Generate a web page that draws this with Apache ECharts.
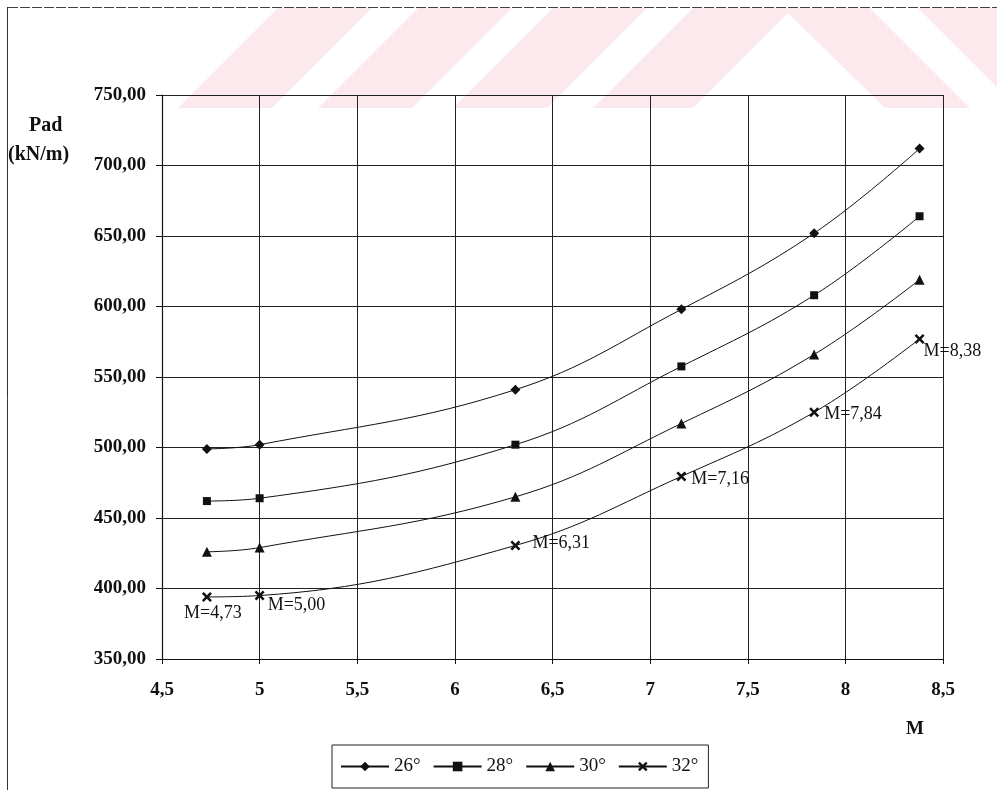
<!DOCTYPE html>
<html>
<head>
<meta charset="utf-8">
<script src="https://cdn.jsdelivr.net/npm/echarts@6/dist/echarts.min.js"></script>
<style>
html,body{margin:0;padding:0;background:#fff;}
#c{width:997px;height:790px;}
</style>
</head>
<body>
<div id="c"></div>
<script>
// ---- data ----
const xValues = [4.73, 5.00, 6.31, 7.16, 7.84, 8.38];
const s26 = [499, 502, 541, 598, 652, 712];
const s28 = [462, 464, 502, 557.5, 608, 664];
const s30 = [426, 429, 465, 517, 566, 619];
const s32 = [394, 395, 430.5, 479.5, 525, 577];
const seriesNames = ['26°', '28°', '30°', '32°'];
const pointLabels32 = ['M=4,73', 'M=5,00', 'M=6,31', 'M=7,16', 'M=7,84', 'M=8,38'];
const xAxisMin = 4.5, xAxisMax = 8.5, xAxisStep = 0.5;
const yAxisMin = 350, yAxisMax = 750, yAxisStep = 50;
const yAxisTitle = ['Pad', '(kN/m)'];
const xAxisTitle = 'M';

// ---- styles ----
const FONT = '"Liberation Serif", "Times New Roman", serif';
const INK = '#111';
const PINK = '#fce9ed';
const symbols = [
  'diamond',
  'rect',
  'triangle',
  'path://M0,1.8 L1.8,0 L5,3.2 L8.2,0 L10,1.8 L6.8,5 L10,8.2 L8.2,10 L5,6.8 L1.8,10 L0,8.2 L3.2,5 Z'
];
const symbolSizes = [10, 8, 10, 10];
const labelLayout32 = [
  {position: 'bottom', distance: 2, offset: [6, 0]},
  {position: 'right', distance: 3, offset: [0, 10]},
  {position: 'right', distance: 12, offset: [0, -2]},
  {position: 'right', distance: 5, offset: [0, 3]},
  {position: 'right', distance: 5, offset: [0, 2]},
  {position: 'right', distance: 0, offset: [-1, 12]}
];

const allValues = [s26, s28, s30, s32];

function pairs(vals) { return xValues.map((x, i) => [x, vals[i]]); }

const series = allValues.map((vals, si) => {
  let data = pairs(vals);
  if (si === 3) {
    data = data.map((d, i) => ({
      value: d,
      label: {
        show: true,
        formatter: pointLabels32[i],
        position: labelLayout32[i].position,
        distance: labelLayout32[i].distance,
        offset: labelLayout32[i].offset,
        fontFamily: FONT, fontSize: 18, color: INK
      }
    }));
  }
  return {
    name: seriesNames[si],
    type: 'line',
    data: data,
    smooth: 0.4,
    symbol: symbols[si],
    symbolSize: symbolSizes[si],
    showAllSymbol: true,
    lineStyle: {color: INK, width: 1},
    itemStyle: {color: INK, borderWidth: 0},
    emphasis: {disabled: true},
    animation: false,
    z: 5
  };
});

// watermark polygons (decorative, behind the chart)
const wm = [
  [[178,108],[272,108],[372,8],[278,8]],
  [[318,108],[412,108],[512,8],[418,8]],
  [[453,108],[547,108],[647,8],[553,8]],
  [[593,108],[693,108],[788,13],[885,108],[970,108],[870,8],[693,8]],
  [[918,8],[997,8],[997,87]]
];

const graphic = wm.map(p => ({
  type: 'polygon', z: -100, silent: true,
  shape: {points: p},
  style: {fill: PINK}
}));
graphic.push(
  {type: 'line', z: 50, shape: {x1: 7.5, y1: 7, x2: 7.5, y2: 790}, style: {stroke: '#333', lineWidth: 1}},
  {type: 'line', z: 50, shape: {x1: 8, y1: 7.5, x2: 997, y2: 7.5}, style: {stroke: '#444', lineWidth: 1, lineDash: [10, 2]}},
  {type: 'text', z: 50, left: 29, top: 116, style: {text: yAxisTitle[0], font: 'bold 20px ' + FONT, fill: INK}},
  {type: 'text', z: 50, left: 8, top: 145, style: {text: yAxisTitle[1], font: 'bold 20px ' + FONT, fill: INK}},
  {type: 'text', z: 50, left: 906, top: 720, style: {text: xAxisTitle, font: 'bold 19px ' + FONT, fill: INK}}
);

const chart = echarts.init(document.getElementById('c'), null, {renderer: 'canvas'});
chart.setOption({
  backgroundColor: '#fff',
  animation: false,
  graphic: graphic,
  grid: {left: 162, top: 95, width: 781, height: 564, containLabel: false},
  xAxis: {
    type: 'value', min: xAxisMin, max: xAxisMax, interval: xAxisStep,
    axisLine: {show: true, onZero: false, lineStyle: {color: INK, width: 1.2}},
    axisTick: {show: true, length: 5, lineStyle: {color: INK}},
    axisLabel: {
      margin: 22, color: INK, fontFamily: FONT, fontSize: 19, fontWeight: 'bold',
      showMinLabel: true, showMaxLabel: true,
      formatter: v => String(+v.toFixed(1)).replace('.', ',')
    },
    splitLine: {show: true, lineStyle: {color: '#222', width: 1}}
  },
  yAxis: {
    type: 'value', min: yAxisMin, max: yAxisMax, interval: yAxisStep,
    axisLine: {show: true, onZero: false, lineStyle: {color: INK, width: 1.2}},
    axisTick: {show: true, length: 6, lineStyle: {color: INK}},
    axisLabel: {
      margin: 16, color: INK, fontFamily: FONT, fontSize: 19, fontWeight: 'bold',
      showMinLabel: true, showMaxLabel: true,
      formatter: v => v.toFixed(2).replace('.', ',')
    },
    splitLine: {show: true, lineStyle: {color: '#222', width: 1}}
  },
  legend: {
    show: true,
    data: seriesNames,
    left: 332, top: 745,
    orient: 'horizontal',
    padding: [12, 10, 12, 8],
    itemWidth: 48, itemHeight: 12, itemGap: 12,
    borderColor: '#222', borderWidth: 1,
    backgroundColor: '#fff',
    textStyle: {fontFamily: FONT, fontSize: 19, color: INK},
    selectedMode: false
  },
  series: series
});
</script>
</body>
</html>
